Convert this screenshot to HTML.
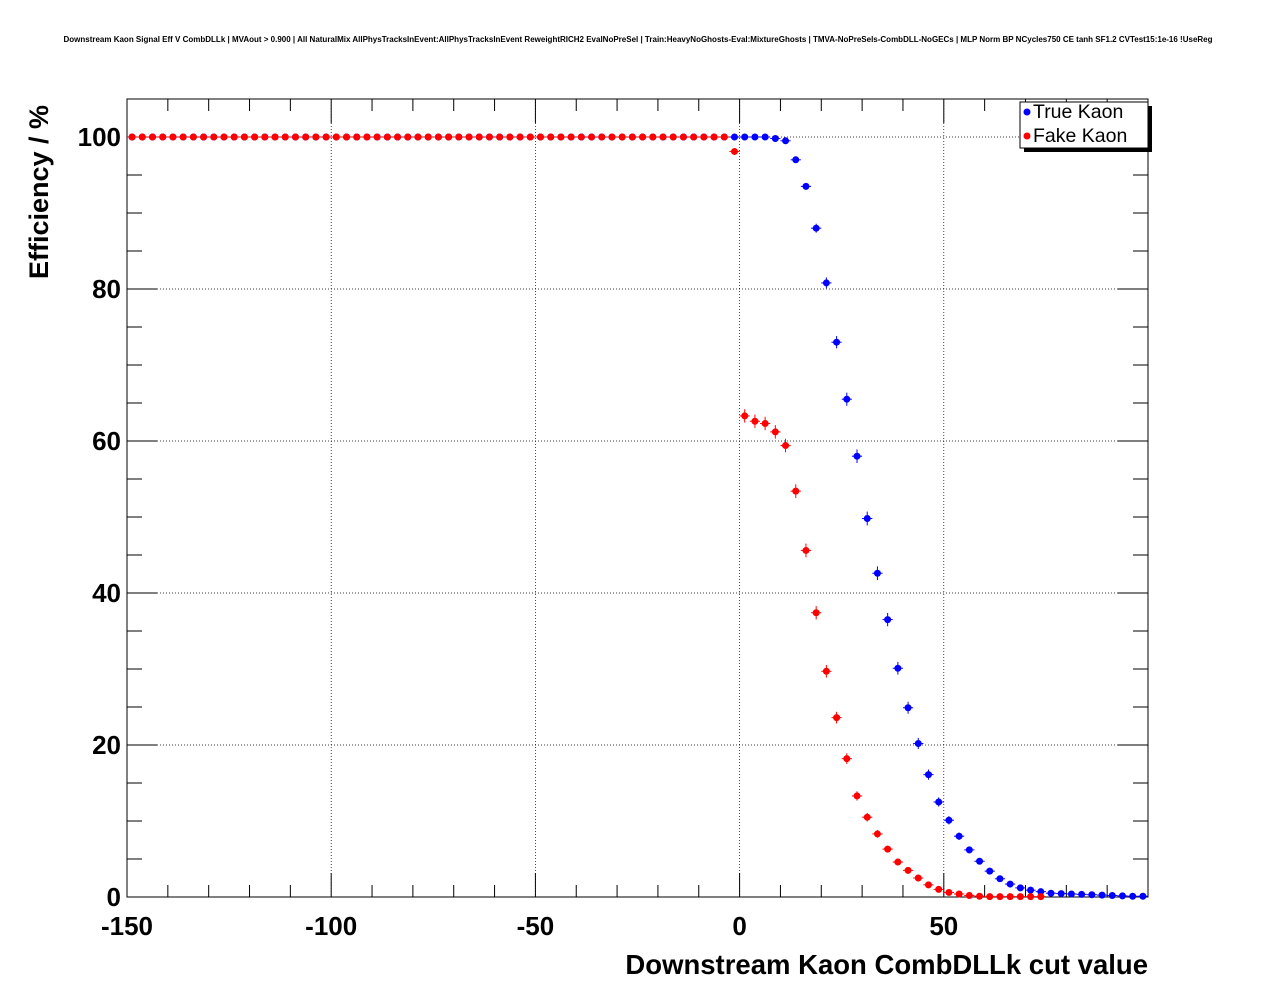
<!DOCTYPE html>
<html><head><meta charset="utf-8"><style>
body{margin:0;background:#fff;}
svg{display:block;font-family:"Liberation Sans",sans-serif;}
</style></head><body>
<svg id="chart" width="1276" height="996">
<text x="638" y="42" font-size="8" font-weight="bold" text-anchor="middle">Downstream Kaon Signal Eff V CombDLLk | MVAout &gt; 0.900 | All NaturalMix AllPhysTracksInEvent:AllPhysTracksInEvent ReweightRICH2 EvalNoPreSel | Train:HeavyNoGhosts-Eval:MixtureGhosts | TMVA-NoPreSels-CombDLL-NoGECs | MLP Norm BP NCycles750 CE tanh SF1.2 CVTest15:1e-16 !UseReg</text>
<g id="grid"></g>
<rect x="127" y="99" width="1021" height="798" fill="none" stroke="#000" stroke-width="1"/>
<g id="axes"></g>
<g id="series"></g>
<text x="1148" y="974" font-size="27.5" font-weight="bold" text-anchor="end">Downstream Kaon CombDLLk cut value</text>
<text transform="translate(48,279) rotate(-90)" font-size="27" font-weight="bold">Efficiency / %</text>
<g>
<rect x="1024" y="106" width="128" height="46" fill="#000"/>
<rect x="1020" y="102" width="128" height="46" fill="#fff" stroke="#000"/>
<circle cx="1027" cy="112" r="3.5" fill="#00f"/>
<text x="1033" y="118" font-size="19.5">True Kaon</text>
<circle cx="1027" cy="136" r="3.5" fill="#f00"/>
<text x="1033" y="142" font-size="19.5">Fake Kaon</text>
</g>
</svg>
<script>
const xTicks=[-150,-100,-50,0,50];
const yTicks=[0,20,40,60,80,100];
const blueTail=[100,100,100,100,99.8,99.5,97,93.5,88,80.8,73,65.5,58,49.8,42.6,36.5,30.1,24.9,20.2,16.1,12.5,10.1,8.0,6.2,4.7,3.4,2.4,1.7,1.2,0.9,0.7,0.5,0.45,0.4,0.35,0.3,0.25,0.2,0.15,0.1,0.1];
const redTail=[98.1,63.3,62.6,62.3,61.2,59.4,53.4,45.6,37.4,29.7,23.6,18.2,13.3,10.5,8.3,6.3,4.6,3.5,2.5,1.6,1.0,0.6,0.4,0.2,0.1,0.05,0.05,0.05,0.05,0.05,0.05];
const X0=127,X1=1148,Y0=897,Y1=99,xmin=-150,xmax=100,ymin=0,ymax=105;
const sx=v=>X0+(v-xmin)/(xmax-xmin)*(X1-X0);
const sy=v=>Y0-(v-ymin)/(ymax-ymin)*(Y0-Y1);
const NS='http://www.w3.org/2000/svg';
function mk(tag,at,par){const e=document.createElementNS(NS,tag);for(const k in at)e.setAttribute(k,at[k]);par.appendChild(e);return e;}
const grid=document.getElementById('grid'),axes=document.getElementById('axes'),series=document.getElementById('series');
xTicks.forEach(t=>{const x=sx(t);
 const g=mk('line',{x1:x,x2:x,y1:Y1,y2:Y0,stroke:'#000','stroke-dasharray':'1,2','stroke-width':0.7},grid);
 
 
 const l=mk('text',{x:x,y:935,'font-size':26,'font-weight':'bold','text-anchor':'middle'},axes);l.textContent=t;
 
 });
yTicks.forEach(t=>{const y=sy(t);
 const g=mk('line',{x1:X0,x2:X1,y1:y,y2:y,stroke:'#000','stroke-dasharray':'1,2','stroke-width':0.7},grid);
 
 
 const l=mk('text',{x:121,y:y+9,'font-size':26,'font-weight':'bold','text-anchor':'end'},axes);l.textContent=t;
 
 });
for(let v=xmin;v<=xmax;v+=10){const x=sx(v),L=(v%50===0)?24:12;
 mk('line',{x1:x,x2:x,y1:Y0,y2:Y0-L,stroke:'#000'},axes);mk('line',{x1:x,x2:x,y1:Y1,y2:Y1+L,stroke:'#000'},axes);}
for(let v=0;v<=ymax;v+=5){const y=sy(v),L=(v%20===0)?30:15;
 mk('line',{x1:X0,x2:X0+L,y1:y,y2:y,stroke:'#000'},axes);mk('line',{x1:X1,x2:X1-L,y1:y,y2:y,stroke:'#000'},axes);}
function draw(vals,color,name){
 for(let i=0;i<100;i++){const c=-148.75+2.5*i;let v;
  if(c<-1.25)v=100;else{const k=Math.round((c+1.25)/2.5);if(k>=vals.length)return;v=vals[k];}
  const x=sx(c),y=sy(v);
  mk('line',{x1:sx(c-1.25),x2:sx(c+1.25),y1:y,y2:y,stroke:color,'stroke-width':1},series);
  if(v<99&&v>1){const e=Math.max(0.4,Math.sqrt(v*(100-v))/55);mk('line',{x1:x,x2:x,y1:sy(v+e),y2:sy(v-e),stroke:color},series);}
  const p=mk('circle',{cx:x,cy:y,r:3.5,fill:color},series);
  
  }
}
draw(blueTail,'#00f','true-kaon-point');
draw(redTail,'#f00','fake-kaon-point');
</script>
</body></html>
